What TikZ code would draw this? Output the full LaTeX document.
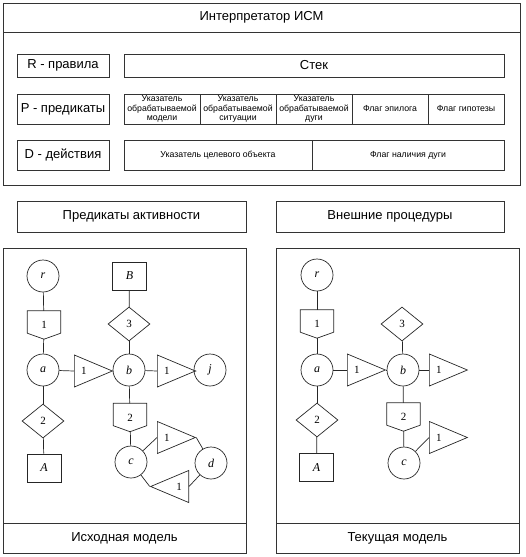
\documentclass[tikz,border=0pt]{standalone}
\usepackage{fontspec}
\setmainfont{Liberation Serif}
\setsansfont{Liberation Sans}
\usetikzlibrary{positioning}
\usetikzlibrary{shapes.geometric}
\tikzset{>=latex}
\tikzset{
  box/.style={draw=black!80, line width=0.7pt, rectangle, inner sep=0pt, outer sep=0pt,
    font=\sffamily\fontsize{13}{15}\selectfont},
  cell/.style={draw=black!80, line width=0.7pt, rectangle, inner sep=0pt, outer sep=0pt,
    minimum height=30pt, align=center, font=\sffamily\fontsize{8.75}{9.5}\selectfont},
  gline/.style={draw=black!85, line width=0.7pt},
  vertex/.style={gline, circle, minimum size=32pt, inner sep=0pt,
    font=\itshape\fontsize{12}{14}\selectfont},
  leaf/.style={gline, rectangle, minimum width=34pt, minimum height=28pt, inner sep=0pt,
    font=\itshape\fontsize{12}{14}\selectfont},
  gate/.style={diamond, gline, aspect=1.24, minimum width=42pt, minimum height=34pt,
    inner sep=0pt, font=\fontsize{11}{13}\selectfont},
  arc/.style={isosceles triangle, isosceles triangle stretches, gline, minimum width=32pt,
    minimum height=38pt, inner sep=0pt, font=\fontsize{11}{13}\selectfont},
  rule/.style={rectangle, minimum width=33pt, minimum height=28pt, inner sep=0pt,
    font=\fontsize{11}{13}\selectfont}
}
\newcommand{\pentbox}[1]{\draw[gline] (#1.north west) -- (#1.north east)
  -- ([yshift=6pt]#1.south east) -- (#1.south) -- ([yshift=6pt]#1.south west) -- cycle;}

\begin{document}
\begin{tikzpicture}[x=1pt, y=-1pt]
  \useasboundingbox (0,0) rectangle (526,557);

  % interpreter
  \draw[draw=black!80, line width=0.7pt] (3,3) rectangle (520,185);
  \node[box, minimum width=517pt, minimum height=29pt, anchor=north west] (interp) at (3,3)
    {Интерпретатор ИСМ};

  \node[box, minimum width=92pt, minimum height=23pt] (rules) at (63,65.5) {R - правила};
  \node[box, minimum width=380pt, minimum height=23pt] (stack) at (314,65.5) {Стек};

  \node[box, minimum width=92pt, minimum height=30pt] (preds) at (63,109) {P - предикаты};
  \node[cell, minimum width=76pt, anchor=west] (pmodel) at (124,109)
    {Указатель\\обрабатываемой\\модели};
  \node[cell, minimum width=76pt, right=0pt of pmodel] (psit)
    {Указатель\\обрабатываемой\\ситуации};
  \node[cell, minimum width=76pt, right=0pt of psit] (parc)
    {Указатель\\обрабатываемой\\дуги};
  \node[cell, minimum width=76pt, right=0pt of parc] (fepil) {Флаг эпилога};
  \node[cell, minimum width=76pt, right=0pt of fepil] (fhyp) {Флаг гипотезы};

  \node[box, minimum width=92pt, minimum height=30pt] (acts) at (63,155) {D - действия};
  \node[cell, minimum width=188pt, anchor=west] (ptarget) at (124,155)
    {Указатель целевого объекта};
  \node[cell, minimum width=192pt, right=0pt of ptarget] (farc) {Флаг наличия дуги};

  \node[box, minimum width=229pt, minimum height=31pt] (activ) at (131.5,216.5)
    {Предикаты активности};
  \node[box, minimum width=228pt, minimum height=31pt] (extproc) at (390,216.5)
    {Внешние процедуры};

  % panels
  \node[box, minimum width=243pt, minimum height=305pt, anchor=north west] (srcpanel)
    at (3,248) {};
  \node[box, minimum width=243pt, minimum height=30pt, anchor=south west] (srcname)
    at (srcpanel.south west) {Исходная модель};
  \node[box, minimum width=243pt, minimum height=305pt, anchor=north west] (curpanel)
    at (276,248) {};
  \node[box, minimum width=243pt, minimum height=30pt, anchor=south west] (curname)
    at (curpanel.south west) {Текущая модель};

  % source model
  \node[vertex] (r) at (43,276) {r};
  \node[rule] (p1) at (44,325) {1};
  \pentbox{p1}
  \node[vertex] (a) at (43,370) {a};
  \node[gate] (g2) at (43,421) {2};
  \node[leaf] (A) at (44,468) {A};
  \node[arc, anchor=lower side] (t1) at (74,371) {1};
  \node[vertex] (b) at (129,370) {b};
  \node[gate] (g3) at (129,324) {3};
  \node[leaf] (B) at (129.5,276) {B};
  \node[arc, anchor=lower side] (t2) at (157,371) {1};
  \node[vertex] (j) at (210,370) {j};
  \node[rule] (p2) at (130,417.5) {2};
  \pentbox{p2}
  \node[vertex] (c) at (131,462) {c};
  \node[arc, anchor=lower side] (t3) at (157,437.5) {1};
  \node[vertex] (d) at (211,463) {d};
  \node[arc, shape border rotate=180, anchor=lower side] (t4) at (189,486.5) {1};

  \draw[gline] (r) -- (p1);
  \draw[gline] (p1) -- (a);
  \draw[gline] (a) -- (g2);
  \draw[gline] (g2) -- (A);
  \draw[gline] (a) -- (t1.lower side);
  \draw[gline] (t1.apex) -- (b);
  \draw[gline] (b) -- (g3);
  \draw[gline] (g3) -- (B);
  \draw[gline] (b) -- (t2.lower side);
  \draw[gline] (t2.apex) -- (j);
  \draw[gline] (b) -- (p2);
  \draw[gline] (p2) -- (c);
  \draw[gline] (c) -- (t3.lower side);
  \draw[gline] (t3.apex) -- (d);
  \draw[gline] (c) -- (t4.apex);
  \draw[gline] (t4.lower side) -- (d);

  % current model
  \begin{scope}[xshift=273pt, name prefix=cur-]
    \node[vertex] (r) at (44,275) {r};
    \node[rule] (p1) at (44,324) {1};
    \pentbox{p1}
    \node[vertex] (a) at (44,370) {a};
    \node[gate] (g2) at (44,420) {2};
    \node[leaf] (A) at (43.5,467.5) {A};
    \node[arc, anchor=lower side] (t1) at (74,370) {1};
    \node[vertex] (b) at (130,370) {b};
    \node[gate] (g3) at (129,324) {3};
    \node[arc, anchor=lower side] (t2) at (156,370) {1};
    \node[rule] (p2) at (130.5,417) {2};
    \pentbox{p2}
    \node[vertex] (c) at (131,463) {c};
    \node[arc, anchor=lower side] (t3) at (156,437.5) {1};

    \draw[gline] (r) -- (p1);
    \draw[gline] (p1) -- (a);
    \draw[gline] (a) -- (g2);
    \draw[gline] (g2) -- (A);
    \draw[gline] (a) -- (t1.lower side);
    \draw[gline] (t1.apex) -- (b);
    \draw[gline] (b) -- (g3);
    \draw[gline] (b) -- (t2.lower side);
    \draw[gline] (b) -- (p2);
    \draw[gline] (p2) -- (c);
    \draw[gline] (c) -- (t3.lower side);
  \end{scope}
\end{tikzpicture}
\end{document}
